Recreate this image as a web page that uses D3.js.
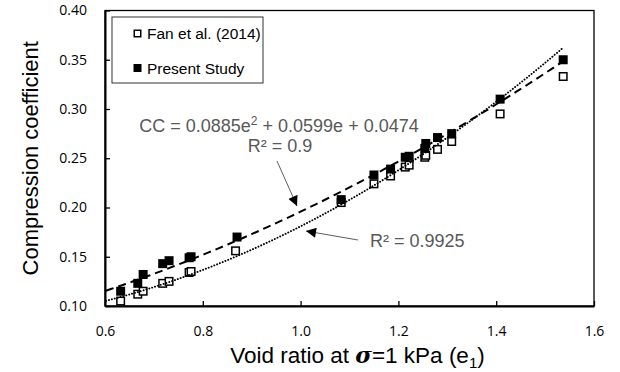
<!DOCTYPE html>
<html lang="en">
<head>
<meta charset="UTF-8" />
<title>Compression coefficient vs void ratio</title>
<script src="https://d3js.org/d3.v7.min.js"></script>
<style>
  body { margin: 0; background: #fff; }
  svg { display: block; }
  .tick text { font-family: "Open Sans", sans-serif; font-size: 14px; fill: #000; }
  .title { font-family: "Liberation Sans", Arial, sans-serif; font-size: 22px; fill: #000; }
  .note { font-family: "Liberation Sans", Arial, sans-serif; font-size: 18px; fill: #595959; }
  .legend text { font-family: "Liberation Sans", Arial, sans-serif; font-size: 15.5px; fill: #000; }
</style>
</head>
<body>
<div id="chart"></div>
<script>
// void ratio (e1) and compression coefficient
const fanE  = [0.632, 0.667, 0.678, 0.718, 0.731, 0.772, 0.776, 0.867, 1.083, 1.150, 1.184, 1.214, 1.222, 1.254, 1.256, 1.280, 1.309, 1.408, 1.537];
const fanCC = [0.105, 0.112, 0.115, 0.123, 0.125, 0.134, 0.135, 0.156, 0.205, 0.224, 0.232, 0.241, 0.243, 0.251, 0.253, 0.259, 0.267, 0.295, 0.333];
const presentE  = [0.632, 0.667, 0.678, 0.718, 0.731, 0.772, 0.776, 0.870, 1.083, 1.150, 1.184, 1.214, 1.222, 1.254, 1.256, 1.280, 1.309, 1.408, 1.537];
const presentCC = [0.115, 0.123, 0.132, 0.143, 0.146, 0.149, 0.150, 0.170, 0.208, 0.233, 0.239, 0.251, 0.252, 0.260, 0.265, 0.271, 0.275, 0.310, 0.350];

// polynomial trendlines: a*e^2 + b*e + c
const presentFit = [0.0885, 0.0599, 0.0474];
const fanFit = [0.1579, -0.0628, 0.0858];
const fitRange = [0.602, 1.537];

const xTicks = [0.6, 0.8, 1.0, 1.2, 1.4, 1.6];
const yTicks = [0.10, 0.15, 0.20, 0.25, 0.30, 0.35, 0.40];

const W = 620, H = 372;
const plot = { left: 105, right: 594, top: 10.5, bottom: 306 };

const svg = d3.select("#chart").append("svg")
  .attr("width", W).attr("height", H);

const x = d3.scaleLinear().domain([0.6, 1.6]).range([plot.left, plot.right]);
const y = d3.scaleLinear().domain([0.10, 0.40]).range([plot.bottom, plot.top]);

// plot area border (top / right)
svg.append("rect")
  .attr("x", plot.left).attr("y", plot.top)
  .attr("width", plot.right - plot.left).attr("height", plot.bottom - plot.top)
  .attr("fill", "none").attr("stroke", "#000").attr("stroke-width", 1.3);

// axes, ticks pointing inside
const xAxis = svg.append("g")
  .attr("transform", `translate(0,${plot.bottom})`)
  .call(d3.axisBottom(x).tickValues(xTicks).tickFormat(d3.format(".1f"))
    .tickSizeInner(-5).tickSizeOuter(0).tickPadding(20));
const yAxis = svg.append("g")
  .attr("transform", `translate(${plot.left},0)`)
  .call(d3.axisLeft(y).tickValues(yTicks).tickFormat(d3.format(".2f"))
    .tickSizeInner(-5).tickSizeOuter(0).tickPadding(18));
[xAxis, yAxis].forEach(g => {
  g.select(".domain").attr("stroke", "#000").attr("stroke-width", 2);
  g.selectAll(".tick line").attr("stroke", "#000").attr("stroke-width", 1.3);
});

// markers
const pts = (es, cs) => es.map((e, i) => ({ e, c: cs[i] }));
const S = 9;
svg.append("g").selectAll("rect")
  .data(pts(fanE, fanCC)).join("rect")
  .attr("x", d => x(d.e) - S / 2 + 0.75).attr("y", d => y(d.c) - S / 2 + 0.75)
  .attr("width", S - 1.5).attr("height", S - 1.5)
  .attr("fill", "#fff").attr("stroke", "#000").attr("stroke-width", 1.5);
svg.append("g").selectAll("rect")
  .data(pts(presentE, presentCC)).join("rect")
  .attr("x", d => x(d.e) - S / 2).attr("y", d => y(d.c) - S / 2)
  .attr("width", S).attr("height", S)
  .attr("fill", "#000");

// trendlines
const poly = k => e => k[0] * e * e + k[1] * e + k[2];
const samples = d3.range(fitRange[0], fitRange[1], 0.01).concat([fitRange[1]]);
const trend = (k) => d3.line().x(e => x(e)).y(e => y(poly(k)(e)))(samples);
svg.append("path").attr("d", trend(presentFit))
  .attr("fill", "none").attr("stroke", "#000").attr("stroke-width", 2)
  .attr("stroke-dasharray", "8,5");
svg.append("path").attr("d", trend(fanFit))
  .attr("fill", "none").attr("stroke", "#000").attr("stroke-width", 1.9)
  .attr("stroke-linecap", "round").attr("stroke-dasharray", "0.1,2.9");

// annotations
const eq = svg.append("text").attr("class", "note")
  .attr("x", 279).attr("y", 132).attr("text-anchor", "middle");
eq.append("tspan").text("CC = 0.0885e");
eq.append("tspan").attr("dy", -7).attr("font-size", "12px").text("2");
eq.append("tspan").attr("dy", 7).text(" + 0.0599e + 0.0474");
svg.append("text").attr("class", "note")
  .attr("x", 280).attr("y", 152).attr("text-anchor", "middle").text("R² = 0.9");
svg.append("text").attr("class", "note")
  .attr("x", 370).attr("y", 247).text("R² = 0.9925");

svg.append("defs").append("marker")
  .attr("id", "head").attr("markerUnits", "userSpaceOnUse")
  .attr("viewBox", "0 0 10 10").attr("refX", 10).attr("refY", 5)
  .attr("markerWidth", 11).attr("markerHeight", 10).attr("orient", "auto")
  .append("path").attr("d", "M0,0L10,5L0,10Z").attr("fill", "#000");
svg.append("line").attr("x1", 277).attr("y1", 161).attr("x2", 297).attr("y2", 206)
  .attr("stroke", "#333").attr("stroke-width", 0.8).attr("marker-end", "url(#head)");
svg.append("line").attr("x1", 358).attr("y1", 240).attr("x2", 306).attr("y2", 231)
  .attr("stroke", "#333").attr("stroke-width", 0.8).attr("marker-end", "url(#head)");

// axis titles
svg.append("text").attr("class", "title")
  .attr("transform", `translate(38,${(plot.top + plot.bottom) / 2}) rotate(-90)`)
  .attr("text-anchor", "middle").text("Compression coefficient");
const xt = svg.append("text").attr("class", "title")
  .attr("x", (plot.left + plot.right) / 2 + 8).attr("y", 363).attr("text-anchor", "middle")
  .style("font-size", "22.5px");
xt.append("tspan").text("Void ratio at ");
xt.append("tspan").attr("font-weight", "bold").attr("font-style", "italic")
  .attr("font-family", "DejaVu Serif, serif").text("σ");
xt.append("tspan").text("=1 kPa (e");
xt.append("tspan").attr("dy", 5).attr("font-size", "15px").text("1");
xt.append("tspan").attr("dy", -5).text(")");

// legend
const legend = svg.append("g").attr("class", "legend");
legend.append("rect").attr("x", 112).attr("y", 17).attr("width", 151).attr("height", 66)
  .attr("fill", "#fff").attr("stroke", "#333").attr("stroke-width", 1);
const items = [
  { label: "Fan et al. (2014)", open: true, cy: 33.5 },
  { label: "Present Study", open: false, cy: 68 }
];
items.forEach(it => {
  const s = 8;
  legend.append("rect")
    .attr("x", 137.5 - s / 2 + (it.open ? 0.75 : 0)).attr("y", it.cy - s / 2 + (it.open ? 0.75 : 0))
    .attr("width", it.open ? s - 1.5 : s).attr("height", it.open ? s - 1.5 : s)
    .attr("fill", it.open ? "#fff" : "#000")
    .attr("stroke", it.open ? "#000" : "none").attr("stroke-width", 1.5);
  legend.append("text").attr("x", 147).attr("y", it.cy + 5.5).text(it.label);
});
</script>
</body>
</html>
